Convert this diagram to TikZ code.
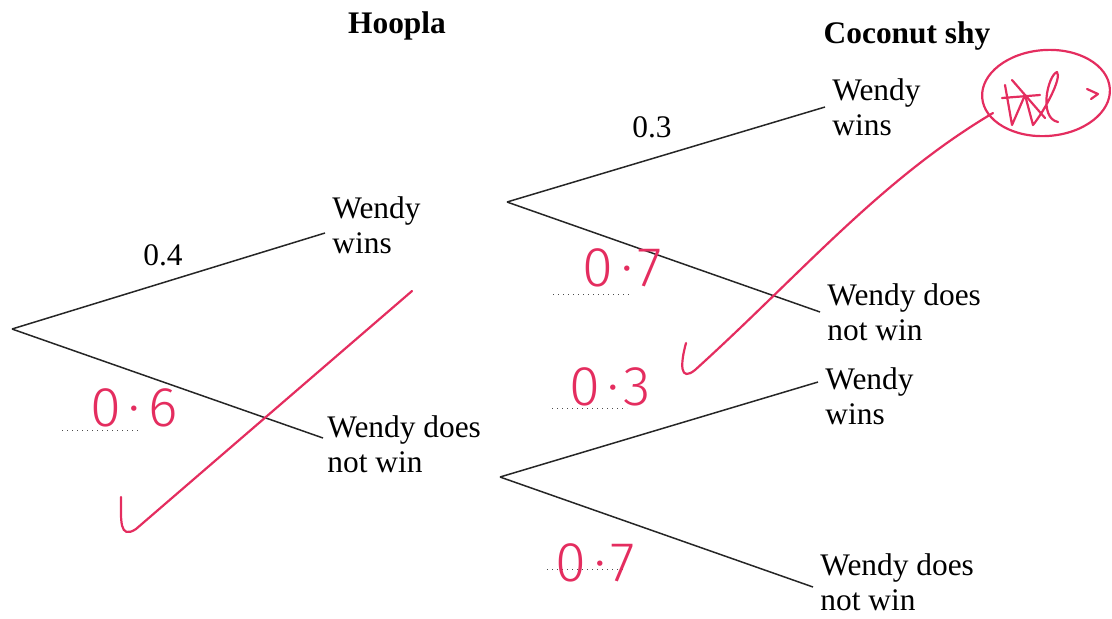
\documentclass[tikz,border=0pt]{standalone}
\usepackage{fontspec}
\setmainfont{Liberation Serif}
\newfontfamily\penfont{Fira Sans}[UprightFont={* Light},LetterSpace=14]
\definecolor{penred}{RGB}{228,45,95}

\begin{document}
\begin{tikzpicture}[x=.5pt,y=-.5pt,
    branch/.style={line width=.75pt,black!85},
    outcome/.style={anchor=base west,align=left,inner sep=0pt,
      font=\fontsize{15.7}{17.5}\selectfont},
    prob/.style={anchor=base,inner sep=0pt,font=\fontsize{15.7}{17.5}\selectfont},
    heading/.style={anchor=base,inner sep=0pt,font=\fontsize{15.7}{17.5}\selectfont\bfseries},
    blank/.style={black!70,line width=.5pt,dotted},
    ink/.style={penred,line width=1.1pt,line cap=round,line join=round},
    inktext/.style={text=penred,inner sep=0pt,font=\penfont\fontsize{28}{28}\selectfont}]
  \useasboundingbox (0,0) rectangle (1112,618);
  % Verzweigungen und Astenden
  \coordinate (root) at (12,329);
  \coordinate (hw) at (325,233);
  \coordinate (hl) at (323,438);
  \coordinate (cw) at (507,202);
  \coordinate (cww) at (825,107);
  \coordinate (cwl) at (820,312);
  \coordinate (cl) at (500,477);
  \coordinate (clw) at (818,382);
  \coordinate (cll) at (813,587);
  \foreach \a/\b in {root/hw,root/hl,cw/cww,cw/cwl,cl/clw,cl/cll}
    \draw[branch] (\a) -- (\b);
  \node[heading] (hoopla) at (397,33) {Hoopla};
  \node[heading] (coconut) at (907,43) {Coconut shy};
  \node[outcome] (hwtext) at (332,253) {Wendy\\wins};
  \node[outcome] (hltext) at (327,472) {Wendy does\\not win};
  \node[outcome] (cwwtext) at (832,135) {Wendy\\wins};
  \node[outcome] (cwltext) at (827,340) {Wendy does\\not win};
  \node[outcome] (clwtext) at (825,424) {Wendy\\wins};
  \node[outcome] (clltext) at (820,610) {Wendy does\\not win};
  \node[prob] (phw) at (163,265) {0.4};
  \node[prob] (pcww) at (652,137) {0.3};
  \foreach \xa/\xb/\yy in {62/140/430,553/632/294,552/627/408,547/625/569}
    \draw[blank] (\xa,\yy) -- (\xb,\yy);
  % Eintragungen mit Stift
  \node[inktext] (phl) at (134,408) {0·6};
  \node[inktext] (pcwl) at (622,268) {0·7};
  \node[inktext] (pclw) at (610,387) {0·3};
  \node[inktext] (pcll) at (595,563) {0·7};
  \draw[ink] (121,497) .. controls (121,520) and (119,540) .. (136,529) -- (412,291);
  \draw[ink] (686,343) .. controls (680,365) and (680,382) .. (695,370)
    .. controls (800,275) and (880,180) .. (993,113);
  \draw[ink,rotate around={4:(1046,93)}] (1046,93) ellipse [x radius=64,y radius=43];
  \draw[ink] (1005,85) -- (1012,125) -- (1025,95) -- (1033,125)
    .. controls (1045,110) and (1062,78) .. (1057,72)
    .. controls (1048,75) and (1038,118) .. (1058,122);
  \draw[ink] (1002,98) -- (1040,95) (1012,80) -- (1045,118);
  \draw[ink] (1087,89) -- (1098,94) -- (1091,99);
\end{tikzpicture}
\end{document}
